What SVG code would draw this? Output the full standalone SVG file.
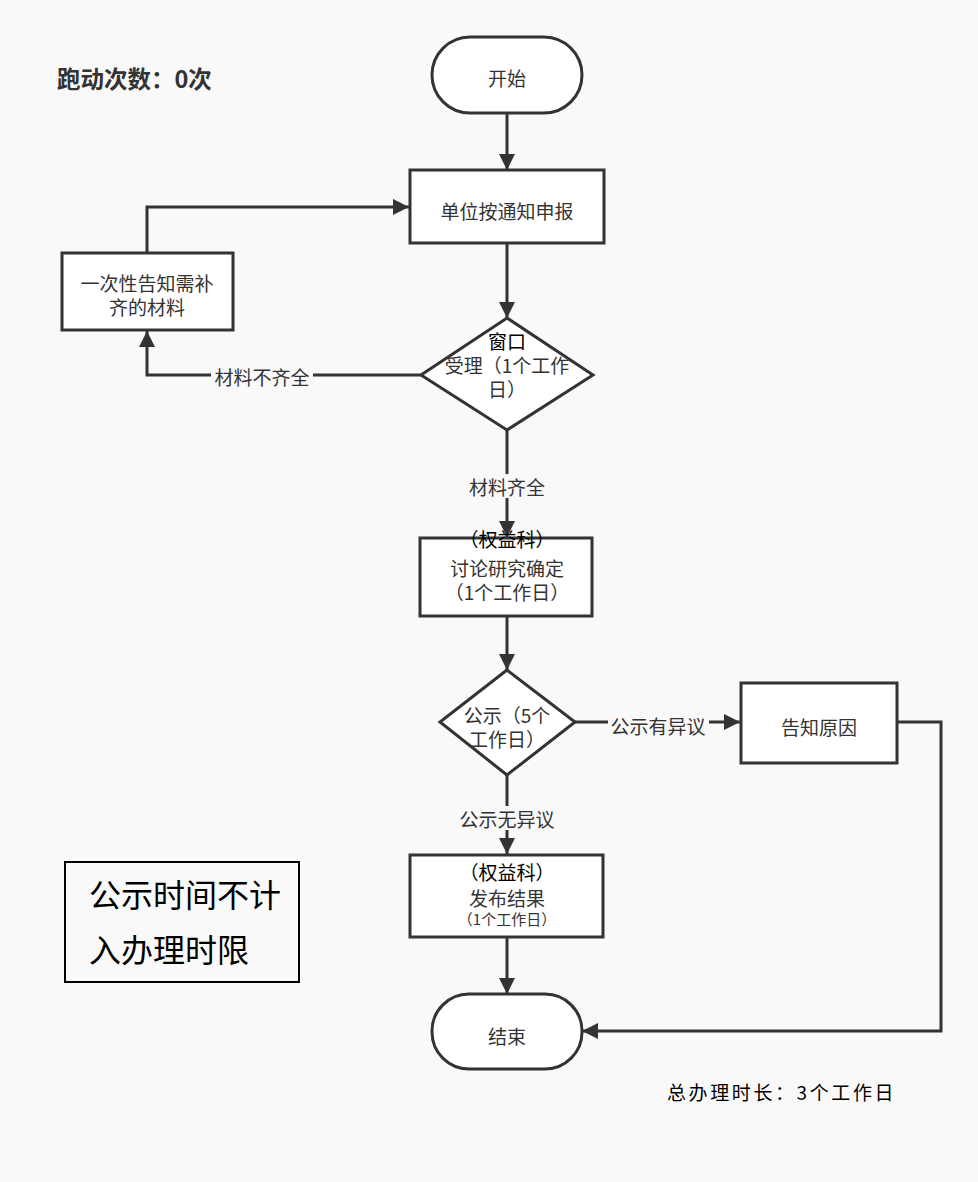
<svg xmlns="http://www.w3.org/2000/svg" width="978" height="1182" viewBox="0 0 978 1182">
<defs>
<style>
.s{fill:#fff;stroke:#333;stroke-width:3}
.t{font-family:"Noto Sans CJK SC","Noto Sans",sans-serif;font-size:19px;fill:#333;text-anchor:middle;dominant-baseline:central}
.k{fill:#000}
.c{fill:none;stroke:#333;stroke-width:3}
.lb{fill:#f9f9f9}
</style>
<marker id="ah" markerUnits="userSpaceOnUse" markerWidth="18" markerHeight="16" refX="16" refY="8" orient="auto">
<path d="M0,0 L16,8 L0,16 Z" fill="#333"/>
</marker>
</defs>
<rect width="978" height="1182" fill="#f9f9f9"/>
<text x="57" y="78" class="t" style="text-anchor:start;font-weight:bold;font-size:23.5px">跑动次数：0次</text>
<text x="667" y="1091" class="t k" style="text-anchor:start;font-size:19px;letter-spacing:2.6px">总办理时长：3个工作日</text>

<g id="connectors">
<path class="c" marker-end="url(#ah)" d="M507,113 V170"/>
<path class="c" marker-end="url(#ah)" d="M507,243 V318"/>
<path class="c" marker-end="url(#ah)" d="M421,375 H147 V331"/>
<path class="c" marker-end="url(#ah)" d="M147,253 V207 H409"/>
<path class="c" marker-end="url(#ah)" d="M507,430 V537"/>
<path class="c" marker-end="url(#ah)" d="M507,616 V670"/>
<path class="c" marker-end="url(#ah)" d="M575,722 H740"/>
<path class="c" marker-end="url(#ah)" d="M897,722 H941 V1031 H582"/>
<path class="c" marker-end="url(#ah)" d="M507,775 V854"/>
<path class="c" marker-end="url(#ah)" d="M507,937 V994"/>
<rect class="lb" x="211" y="364" width="102" height="24"/>
<text class="t" x="262" y="376">材料不齐全</text>
<rect class="lb" x="465" y="474" width="84" height="24"/>
<text class="t" x="507" y="486">材料齐全</text>
<rect class="lb" x="608" y="713" width="101" height="24"/>
<text class="t" x="658" y="725">公示有异议</text>
<rect class="lb" x="456" y="806" width="102" height="24"/>
<text class="t" x="507" y="818">公示无异议</text>
</g>

<g id="start">
<rect class="s" x="432" y="37" width="150" height="76" rx="38"/>
<text class="t" x="507" y="77">开始</text>
</g>
<g id="apply">
<rect class="s" x="410" y="170" width="194" height="73"/>
<text class="t" x="507" y="210">单位按通知申报</text>
</g>
<g id="accept">
<path class="s" d="M507,318 L593,375 L507,430 L421,375 Z"/>
<text class="t k" x="507" y="340">窗口</text>
<text class="t" x="507" y="364">受理（1个工作</text>
<text class="t" x="507" y="388">日）</text>
</g>
<g id="notify">
<rect class="s" x="62" y="253" width="171" height="77"/>
<text class="t" x="147" y="282">一次性告知需补</text>
<text class="t" x="147" y="306">齐的材料</text>
</g>
<g id="discuss">
<rect class="s" x="420" y="538" width="172" height="78"/>
<text class="t k" x="507" y="538">（权益科）</text>
<text class="t" x="507" y="567">讨论研究确定</text>
<text class="t" x="507" y="591">（1个工作日）</text>
</g>
<g id="publicity">
<path class="s" d="M507,670 L575,722 L507,775 L440,722 Z"/>
<text class="t" x="507" y="714">公示（5个</text>
<text class="t" x="507" y="738">工作日）</text>
</g>
<g id="reason">
<rect class="s" x="741" y="683" width="156" height="80"/>
<text class="t" x="819" y="726">告知原因</text>
</g>
<g id="publish">
<rect class="s" x="410" y="855" width="193" height="82"/>
<text class="t k" x="507" y="871">（权益科）</text>
<text class="t" x="507" y="897">发布结果</text>
<text class="t" x="507" y="918" style="font-size:15px">（1个工作日）</text>
</g>
<g id="end">
<rect class="s" x="432" y="994" width="150" height="75" rx="37"/>
<text class="t" x="507" y="1035">结束</text>
</g>
<g id="note">
<rect x="65" y="862" width="234" height="120" fill="#f9f9f9" stroke="#000" stroke-width="2"/>
<text class="t k" x="89" y="893" style="text-anchor:start;font-size:32px">公示时间不计</text>
<text class="t k" x="89" y="948" style="text-anchor:start;font-size:32px">入办理时限</text>
</g>
</svg>
